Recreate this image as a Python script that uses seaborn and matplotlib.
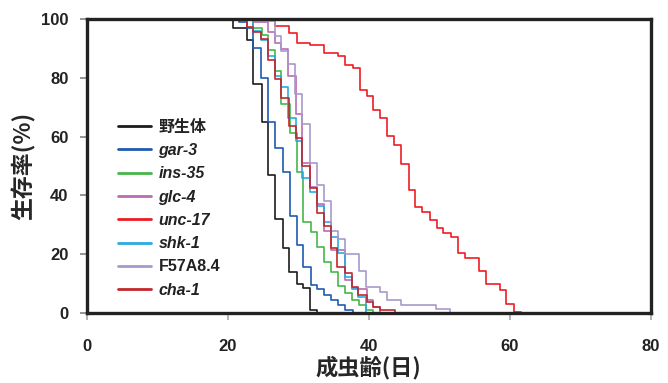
import pandas as pd
import matplotlib
matplotlib.use("Agg")
import matplotlib.pyplot as plt
import seaborn as sns

# survival curves (day of step, % alive after step)
wt_day = [0, 20.7, 22.7, 23.6, 24.8, 25.75, 26.7, 27.8, 28.7, 29.8, 30.7, 31.7, 32.7]
wt_pct = [100, 97, 93, 78, 65, 47, 32, 22, 14, 10, 8.4, 1, 0]

gar3_day = [0, 21.6, 22.7, 23.6, 24.7, 25.75, 26.7, 27.8, 28.8, 29.8, 30.7, 31.8, 32.7, 33.6, 34.7, 35.7, 36.6, 37.8]
gar3_pct = [100, 99, 97, 90, 80, 65, 56, 48, 33, 23, 15.6, 9.5, 8, 6, 4.4, 2.7, 1, 0]

ins35_day = [0, 23.6, 24.8, 25.75, 26.7, 27.6, 28.8, 29.8, 30.7, 31.8, 32.7, 33.7, 34.6, 35.7, 36.6, 37.6, 38.6, 39.6, 40.6]
ins35_pct = [100, 97, 94.6, 89.4, 82.4, 71, 61.3, 48, 31, 27.4, 22.6, 17.3, 14, 9.3, 6.7, 4.4, 2.7, 1, 0]

glc4_day = [0, 23.6, 25.75, 26.7, 27.6, 28.6, 29.7, 30.6, 31.7, 32.7, 33.6, 34.6, 36.6, 37.6, 39.7, 40.6, 41.6]
glc4_pct = [100, 99, 95.5, 92, 89.8, 80.6, 67.6, 51, 43, 37, 28, 21.5, 11.3, 8, 4.4, 2.2, 0]

unc17_day = [0, 26.7, 28.7, 29.8, 31.7, 33.6, 35.7, 36.6, 37.7, 38.7, 39.7, 40.6, 41.6, 42.6, 43.6, 44.6,
             45.7, 46.6, 47.6, 48.7, 49.6, 50.5, 51.6, 52.6, 53.6, 55.6, 56.6, 58.6, 59.5, 60.6, 61.6]
unc17_pct = [100, 97.5, 95.3, 92, 91, 88.5, 87.3, 84.4, 83.5, 76, 73.8, 69, 66.3, 60.2, 57.3, 50.8,
             41.7, 36.2, 34.4, 31.5, 28.8, 27.3, 26, 20.5, 18.8, 14.2, 9.7, 7.8, 3.2, 0.4, 0]

shk1_day = [0, 23.6, 24.7, 25.75, 26.7, 27.6, 28.6, 29.7, 30.6, 31.7, 32.6, 33.6, 34.6, 35.7, 36.6, 37.6, 38.5, 39.6]
shk1_pct = [100, 96, 93, 87.5, 80.6, 77, 66.4, 58.5, 46, 41, 36.3, 31, 26, 20.5, 12.2, 8.5, 5.6, 0]

f57_day = [0, 24.8, 26.7, 27.6, 28.6, 29.5, 30.6, 31.7, 32.7, 33.6, 34.6, 35.6, 36.6, 38.6, 39.6, 41.6, 42.6, 44.5, 49.5, 51.5]
f57_pct = [100, 99.4, 94.3, 89.2, 84.6, 74.4, 64.2, 51, 43.7, 38, 28, 25, 20.2, 14.4, 8.8, 7.3, 4.3, 2.7, 1.4, 0]

cha1_day = [0, 22.7, 23.6, 24.7, 25.75, 26.7, 27.6, 28.7, 29.7, 30.6, 31.7, 32.7, 33.6, 34.6, 35.5, 36.6,
            37.6, 38.5, 39.7, 40.6, 41.6, 43.7]
cha1_pct = [100, 97.2, 95.5, 93.2, 86, 79.5, 73, 63.6, 59.5, 50, 42.6, 34, 29.5, 22, 15.8, 13.5,
            9, 6.1, 3.9, 2.2, 1, 0]

strains = ["野生体", "gar-3", "ins-35", "glc-4", "unc-17", "shk-1", "F57A8.4", "cha-1"]
days = [wt_day, gar3_day, ins35_day, glc4_day, unc17_day, shk1_day, f57_day, cha1_day]
pcts = [wt_pct, gar3_pct, ins35_pct, glc4_pct, unc17_pct, shk1_pct, f57_pct, cha1_pct]
colors = ["#1c1c1c", "#1f5bb0", "#45b649", "#b96cb2", "#ed1c24", "#29abe2", "#a898cb", "#c1272d"]

df = pd.concat([pd.DataFrame({"day": d, "pct": p, "strain": s})
                for s, d, p in zip(strains, days, pcts)], ignore_index=True)

sns.set_theme(style="white")
plt.rcParams["font.family"] = ["Liberation Sans", "Noto Sans CJK JP"]
plt.rcParams["font.weight"] = "bold"

fig = plt.figure(figsize=(6.68, 3.83), dpi=100)
ax = fig.add_axes([0.1295, 0.1828, 0.8451, 0.7676])

sns.lineplot(data=df, x="day", y="pct", hue="strain", hue_order=strains,
             palette=dict(zip(strains, colors)), estimator=None, sort=False,
             drawstyle="steps-post", linewidth=1.2, ax=ax)

ax.set_xlim(0, 80)
ax.set_ylim(0, 100)
ax.set_xticks([0, 20, 40, 60, 80])
ax.set_yticks([0, 20, 40, 60, 80, 100])
ax.tick_params(axis="x", direction="out", length=5, color="#aaaaaa", pad=14, labelsize=12)
ax.tick_params(axis="y", direction="out", length=5, color="#888888", pad=8, labelsize=12)
ax.tick_params(left=True, bottom=True)
for lab in ax.get_xticklabels() + ax.get_yticklabels():
    lab.set_fontweight("bold")
    lab.set_color("#222222")

for sp in ax.spines.values():
    sp.set_color("#222222")
    sp.set_linewidth(2.4)

cjk = ["Noto Sans CJK JP", "Liberation Sans"]
ax.set_xlabel("成虫齢(日)", fontsize=16, fontweight="bold", labelpad=1, family=cjk)
ax.set_ylabel("生存率(%)", fontsize=16.5, fontweight="bold", labelpad=4, family=cjk)

leg = ax.legend(loc="upper left", bbox_to_anchor=(0.03, 0.71), frameon=False,
                fontsize=11.5, handlelength=2.05, handletextpad=0.5, labelspacing=0.52)
for line in leg.get_lines():
    line.set_linewidth(2.0)
for txt in leg.get_texts():
    txt.set_fontweight("bold")
    txt.set_color("#222222")
    if txt.get_text() == "野生体":
        txt.set_family(cjk)
    elif txt.get_text() != "F57A8.4":
        txt.set_style("italic")

fig.savefig("out.png", dpi=100)
